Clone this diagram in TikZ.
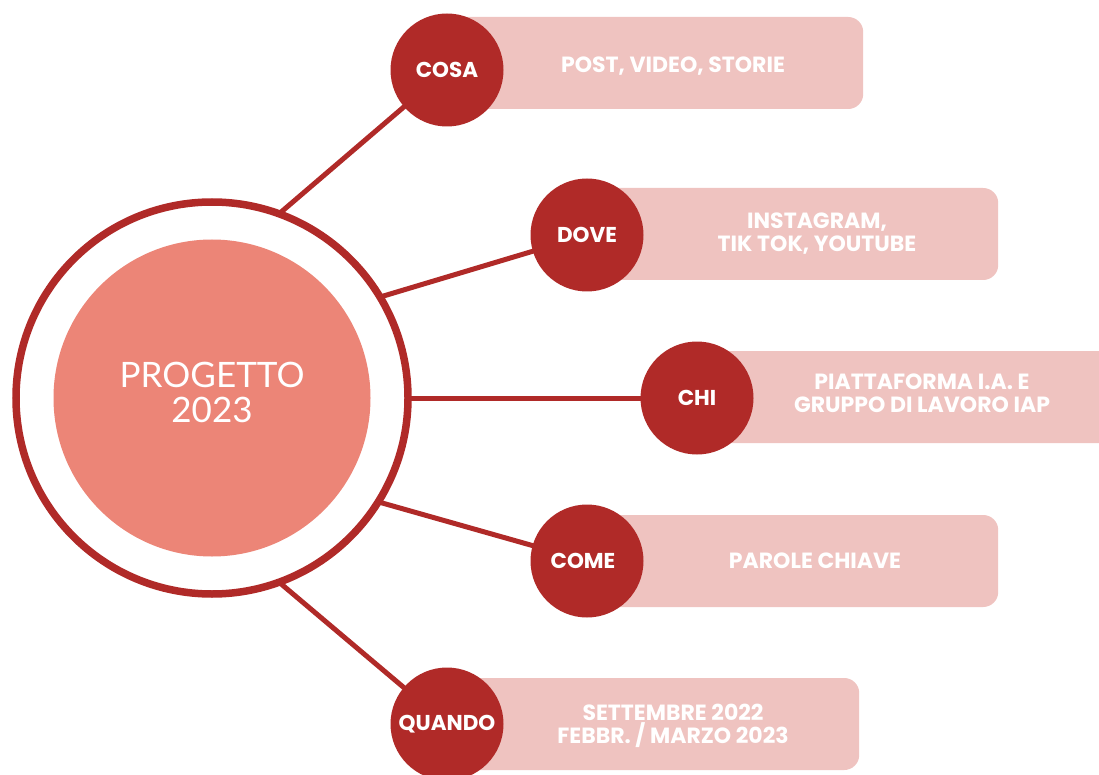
\documentclass[tikz,border=0pt]{standalone}
\usetikzlibrary{calc}
\usepackage{fontspec}
\setmainfont{Poppins}
\newfontfamily\centerfont{Lato}
\definecolor{darkred}{HTML}{B02A28}
\definecolor{boxpink}{HTML}{EFC3C0}
\definecolor{salmon}{HTML}{EC8577}
\begin{document}
\begin{tikzpicture}[x=1pt,y=-1pt,
  link/.style={draw=darkred,line width=5pt},
  bubble/.style={circle,fill=darkred,minimum size=113pt,inner sep=0pt,text=white,font=\bfseries\fontsize{21.5}{23}\selectfont},
  infobox/.style={rectangle,rounded corners=15pt,fill=boxpink,minimum height=92pt,anchor=west,inner sep=0pt},
  infotext/.style={text=white,align=center,font=\bfseries\fontsize{22}{23}\selectfont}]
\useasboundingbox (0,0) rectangle (1099,775);
% hub coordinates
\coordinate (hc) at (212,398);
\coordinate (r1) at ($(hc)+(70:196pt)$);
\coordinate (r2) at ($(hc)+(31:196pt)$);
\coordinate (r3) at ($(hc)+(0:196pt)$);
\coordinate (r4) at ($(hc)+(-32:196pt)$);
\coordinate (r5) at ($(hc)+(-70:196pt)$);
% boxes
\node[infobox,minimum width=416pt] (b1) at (447,63) {};
\node[infobox,minimum width=411pt] (b2) at (587,234) {};
\node[infobox,minimum width=420pt] (b3) at (697,397) {};
\node[infobox,minimum width=411pt] (b4) at (587,561) {};
\node[infobox,minimum width=412pt] (b5) at (447,724) {};
% bubble centres
\coordinate (c1) at (447,70);
\coordinate (c2) at (587,235);
\coordinate (c3) at (697,398);
\coordinate (c4) at (587,561);
\coordinate (c5) at (447,724);
% links
\draw[link] (r1) -- (c1);
\draw[link] (r2) -- (c2);
\draw[link] (r3) -- (c3);
\draw[link] (r4) -- (c4);
\draw[link] (r5) -- (c5);
% hub
\node[circle,draw=darkred,line width=7.5pt,fill=white,minimum size=392pt,inner sep=0pt] (ring) at (hc) {};
\node[circle,fill=salmon,minimum size=317pt,inner sep=0pt] (hub) at (212,398) {};
\node[text=white,align=center,font=\centerfont\fontsize{35}{35}\selectfont] (hubtext) at (212,392) {PROGETTO\\2023};
% bubbles
\node[bubble] (k1) at (c1) {COSA};
\node[bubble] (k2) at (c2) {DOVE};
\node[bubble] (k3) at (c3) {CHI};
\node[bubble] (k4) at (c4) {COME\kern8pt};
\node[bubble] (k5) at (c5) {QUANDO};
% texts
\node[infotext] (t1) at (673,66) {POST, VIDEO, STORIE};
\node[infotext] (t2) at (817,234) {INSTAGRAM,\\TIK TOK, YOUTUBE};
\node[infotext] (t3) at (922,393) {PIATTAFORMA I.A. E\\GRUPPO DI LAVORO IAP};
\node[infotext] (t4) at (815,561) {PAROLE CHIAVE};
\node[infotext] (t5) at (673,726) {SETTEMBRE 2022\\FEBBR. / MARZO 2023};
\end{tikzpicture}
\end{document}
